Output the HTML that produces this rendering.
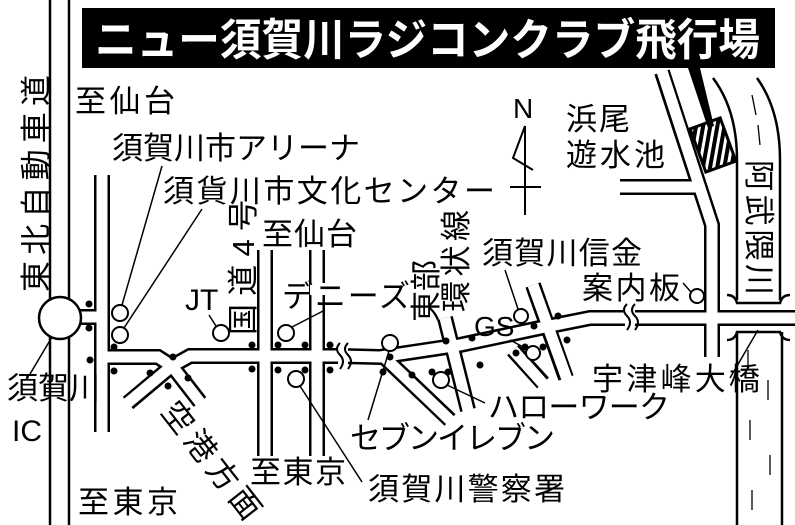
<!DOCTYPE html>
<html><head><meta charset="utf-8"><style>
html,body{margin:0;padding:0;background:#fff}
svg{display:block}
text{font-family:"Liberation Sans","Noto Sans CJK JP",sans-serif;fill:#000}
</style></head><body>
<svg width="795" height="525" viewBox="0 0 795 525" xmlns="http://www.w3.org/2000/svg">
<defs>
<pattern id="h" width="7" height="7" patternUnits="userSpaceOnUse" patternTransform="rotate(30)">
<rect width="7" height="7" fill="#000"/><rect width="3" height="7" fill="#fff"/></pattern>
</defs>
<line x1="50" y1="0" x2="50" y2="525" stroke="#000" stroke-width="2.5"/>
<line x1="69" y1="0" x2="69" y2="525" stroke="#000" stroke-width="2.5"/>
<g fill="none" stroke="#000" stroke-width="16" stroke-linejoin="miter">
<line x1="102" y1="175" x2="102" y2="432"/>
<line x1="70" y1="317" x2="102" y2="317"/>
<polyline points="102,357 158,357 172,366 190,356 340,356 380,357 460,345 540,328 590,318 800,318"/>
<line x1="172" y1="366" x2="128" y2="403"/>
<line x1="172" y1="366" x2="200" y2="402"/>
<line x1="265" y1="250" x2="265" y2="456"/>
<line x1="317" y1="250" x2="317" y2="456"/>
<line x1="385" y1="358" x2="450" y2="420"/>
<line x1="445" y1="318" x2="468" y2="410"/>
<line x1="533" y1="285" x2="566" y2="378"/>
<line x1="513" y1="350" x2="543" y2="383"/>
<polyline points="620,187 700,187"/>
<polyline points="662,72 712,225 712,357"/>
</g>
<g fill="none" stroke="#fff" stroke-width="11" stroke-linejoin="miter">
<line x1="102" y1="170" x2="102" y2="437"/>
<line x1="65" y1="317" x2="102" y2="317"/>
<polyline points="102,357 158,357 172,366 190,356 340,356 380,357 460,345 540,328 590,318 800,318"/>
<line x1="172" y1="366" x2="124" y2="406"/>
<line x1="172" y1="366" x2="203" y2="406"/>
<line x1="265" y1="245" x2="265" y2="461"/>
<line x1="317" y1="245" x2="317" y2="461"/>
<line x1="385" y1="358" x2="454" y2="424"/>
<line x1="445" y1="318" x2="469" y2="414"/>
<line x1="533" y1="285" x2="568" y2="382"/>
<line x1="513" y1="350" x2="546" y2="387"/>
<polyline points="615,187 700,187"/>
<polyline points="661,68 712,225 712,362"/>
</g>
<rect x="310" y="283" width="15" height="12" fill="#fff"/>
<rect x="338" y="345" width="10" height="24" fill="#fff"/>
<path d="M340,343 q-6,6 0,12 q6,6 0,14" fill="none" stroke="#000" stroke-width="2"/>
<path d="M348,343 q-6,6 0,12 q6,6 0,14" fill="none" stroke="#000" stroke-width="2"/>
<rect x="625" y="306" width="10" height="24" fill="#fff"/>
<path d="M627,304 q-6,6 0,12 q6,6 0,14" fill="none" stroke="#000" stroke-width="2"/>
<path d="M635,304 q-6,6 0,12 q6,6 0,14" fill="none" stroke="#000" stroke-width="2"/>
<circle cx="60" cy="318" r="21" fill="#fff" stroke="#000" stroke-width="2.5"/>
<g fill="none" stroke="#000" stroke-width="2.5">
<path d="M713,78 Q737,110 737,160 L737,300"/>
<path d="M757,78 Q780,110 780,160 L780,300"/>
<line x1="737" y1="332" x2="737" y2="525"/>
<line x1="782" y1="332" x2="782" y2="525"/>
<path d="M727,295 q8,0 10,8 L780,303 q2,-8 10,-8"/>
<path d="M727,340 q8,0 10,-8 L780,332 q2,8 10,8"/>
</g>
<g stroke="#000" stroke-width="1.3">
<line x1="752" y1="95" x2="756" y2="115"/><line x1="758" y1="125" x2="760" y2="145"/>
<line x1="748" y1="350" x2="748" y2="370"/><line x1="768" y1="380" x2="768" y2="400"/>
<line x1="750" y1="420" x2="750" y2="440"/><line x1="770" y1="455" x2="770" y2="475"/>
<line x1="752" y1="490" x2="752" y2="510"/>
</g>
<rect x="697" y="122" width="32" height="46" fill="url(#h)" stroke="#000" stroke-width="3" transform="rotate(-20 713 145)"/>
<polygon points="688,68 700,68 714,126 708,128" fill="#000"/>
<text x="513" y="118" font-size="28">N</text>
<polyline points="525,126 513,158 533,170" fill="none" stroke="#000" stroke-width="2"/>
<line x1="525" y1="126" x2="525" y2="215" stroke="#000" stroke-width="2"/>
<line x1="510" y1="187" x2="541" y2="187" stroke="#000" stroke-width="2"/>
<rect x="82" y="8" width="693" height="60" fill="#000"/>
<text x="95" y="55" font-size="44" font-weight="bold" style="fill:#fff" textLength="665" lengthAdjust="spacingAndGlyphs">ニュー須賀川ラジコンクラブ飛行場</text>
<g fill="#fff" stroke="#000" stroke-width="2">
<circle cx="120" cy="313" r="8"/><circle cx="120" cy="335" r="8"/>
<circle cx="221" cy="333" r="8"/><circle cx="286" cy="333" r="8"/>
<circle cx="296" cy="379" r="8"/><circle cx="390" cy="343" r="8"/>
<circle cx="441" cy="380" r="8"/><circle cx="521" cy="316" r="7"/>
<circle cx="533" cy="353" r="7"/><circle cx="697" cy="296" r="7"/>
</g>
<g stroke="#000" stroke-width="1.5">
<line x1="122" y1="305" x2="162" y2="166"/>
<line x1="124" y1="328" x2="202" y2="209"/>
<line x1="216" y1="326" x2="209" y2="315"/>
<line x1="292" y1="327" x2="325" y2="310"/>
<line x1="300" y1="386" x2="362" y2="482"/>
<line x1="389" y1="351" x2="368" y2="420"/>
<line x1="447" y1="385" x2="485" y2="403"/>
<line x1="518" y1="309" x2="505" y2="270"/>
<line x1="527" y1="349" x2="510" y2="340"/>
<line x1="691" y1="292" x2="683" y2="283"/>
<line x1="52" y1="337" x2="30" y2="374"/>
<line x1="730" y1="378" x2="758" y2="330"/>
</g>
<g fill="#000">
<circle cx="89" cy="304" r="3.5"/><circle cx="89" cy="328" r="3.5"/><circle cx="90" cy="360" r="3.5"/>
<circle cx="114" cy="347" r="3.5"/><circle cx="114" cy="371" r="3.5"/><circle cx="150" cy="373" r="3.5"/>
<circle cx="173" cy="357" r="3.5"/><circle cx="188" cy="378" r="3.5"/><circle cx="168" cy="386" r="3.5"/>
<circle cx="252" cy="345" r="3.5"/><circle cx="252" cy="369" r="3.5"/>
<circle cx="278" cy="345" r="3.5"/><circle cx="305" cy="345" r="3.5"/>
<circle cx="278" cy="370" r="3.5"/><circle cx="305" cy="370" r="3.5"/>
<circle cx="330" cy="345" r="3.5"/><circle cx="330" cy="370" r="3.5"/>
<circle cx="390" cy="357" r="3.5"/><circle cx="383" cy="372" r="3.5"/>
<circle cx="412" cy="375" r="3.5"/><circle cx="432" cy="372" r="3.5"/><circle cx="448" cy="372" r="3.5"/>
<circle cx="446" cy="341" r="3.5"/><circle cx="472" cy="338" r="3.5"/>
<circle cx="480" cy="365" r="3.5"/><circle cx="516" cy="353" r="3.5"/><circle cx="525" cy="347" r="3.5"/>
<circle cx="543" cy="347" r="3.5"/><circle cx="534" cy="326" r="3.5"/><circle cx="558" cy="316" r="3.5"/>
<circle cx="567" cy="340" r="3.5"/>
</g>
<text x="185" y="310" font-size="30">JT</text>
<text x="474" y="336" font-size="28">GS</text>
<text x="12" y="441" font-size="30">IC</text>
<g font-size="31" lengthAdjust="spacingAndGlyphs">
<text x="75" y="112" textLength="100">至仙台</text>
<text x="112" y="159" textLength="248">須賀川市アリーナ</text>
<text x="163" y="202" textLength="332">須貨川市文化センター</text>
<text x="262" y="245" textLength="95">至仙台</text>
<text x="282" y="307" textLength="128">デニーズ</text>
<text x="482" y="264" textLength="160">須賀川信金</text>
<text x="582" y="299" textLength="98">案内板</text>
<text x="566" y="130" textLength="64">浜尾</text>
<text x="566" y="166" textLength="99">遊水池</text>
<text x="592" y="390" textLength="168">宇津峰大橋</text>
<text x="488" y="418" textLength="182">ハローワーク</text>
<text x="350" y="449" textLength="205">セブンイレブン</text>
<text x="368" y="500" textLength="197">須賀川警察署</text>
<text x="250" y="483" textLength="96">至東京</text>
<text x="78" y="513" textLength="100">至東京</text>
<text x="7" y="399" textLength="93">須賀川</text>
<text transform="translate(47,292) rotate(-90)" textLength="217">東北自動車道</text>
<text transform="translate(254,335) rotate(-90)" textLength="135">国道4号</text>
<text transform="translate(437,322) rotate(-90)" textLength="62">東部</text>
<text transform="translate(467,312) rotate(-90)" textLength="102">環状線</text>
<text transform="translate(748,160) rotate(90)" textLength="135">阿武隈川</text>
<text transform="translate(160,412) rotate(52)" textLength="140">空港方面</text>
</g>
</svg>
</body></html>
